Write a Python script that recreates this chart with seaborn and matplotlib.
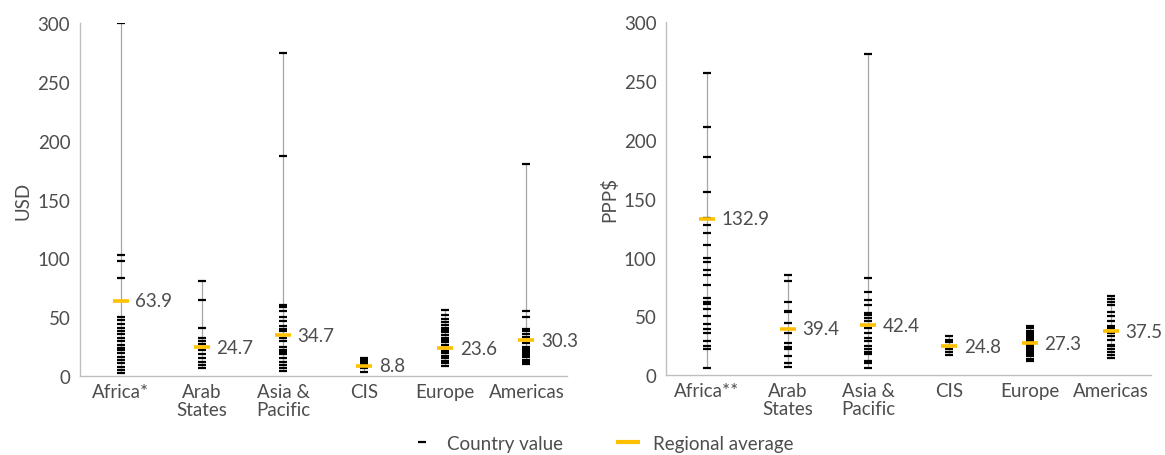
import pandas as pd
import numpy as np
import matplotlib.pyplot as plt
import seaborn as sns
from matplotlib.lines import Line2D

# ---- DATA ----
regions = ["Africa", "Arab States", "Asia & Pacific", "CIS", "Europe", "Americas"]
labels_usd = ["Africa*", "Arab\nStates", "Asia &\nPacific", "CIS", "Europe", "Americas"]
labels_ppp = ["Africa**", "Arab\nStates", "Asia &\nPacific", "CIS", "Europe", "Americas"]

usd_africa = [300, 103, 98, 83, 50.5, 47.6, 43.9, 41.1, 38.2, 35.4, 32.6, 29.7, 26.3, 24.1,
              22.1, 19.3, 16.5, 13.6, 10.8, 8, 5.1, 2.3]
usd_arab = [80.7, 64.6, 41, 32, 29.7, 27, 22, 18.4, 15.6, 12.2, 9.3, 6.5]
usd_asia = [275, 187, 60.8, 58.4, 55.2, 50.5, 46.7, 42.8, 39.7, 38.5, 32.6, 29.7, 25, 22.1,
            20.1, 18.4, 15, 12.2, 9.3, 6.5, 4.2]
usd_cis = [15.6, 13.6, 12.2, 10.8, 9.3, 8, 6.5, 3.7]
usd_europe = [56, 51.8, 48.4, 45.6, 43.3, 41.1, 39.1, 37.1, 34.8, 32.6, 30.6, 28.6, 26.3,
              23.5, 21.2, 19.3, 17.3, 15, 12.8, 10.8, 8.8]
usd_americas = [180, 55, 50, 40, 38, 36, 33, 31, 28, 25, 23, 22, 21, 20, 18, 16, 14, 12, 10]
usd_avg = [63.9, 24.7, 34.7, 8.8, 23.6, 30.3]

ppp_africa = [257, 211, 186, 156, 134, 127.6, 120.8, 110.6, 100, 96.4, 89.6, 85, 76.5, 66,
              62.4, 60.4, 56, 50, 43.4, 39, 36.3, 29.2, 25, 22, 5.7]
ppp_arab = [85, 80, 62, 55, 54, 44, 36, 27, 24, 22, 16, 10, 7]
ppp_asia = [273, 83, 71, 64, 60, 53, 51, 49, 46, 40, 36, 32, 29, 25, 22, 20, 18, 12, 10, 6]
ppp_cis = [33, 30, 28, 25, 22, 20, 17]
ppp_europe = [42, 41, 40, 38, 36, 35, 33, 32, 30, 29, 28, 27, 26, 25, 24, 23, 22, 21, 20,
              19, 18, 16, 14, 13, 12]
ppp_americas = [67, 65, 62, 60, 54, 50, 46, 42, 40, 38, 36, 33, 30, 26, 25, 22, 20, 17, 15]
ppp_avg = [132.9, 39.4, 42.4, 24.8, 27.3, 37.5]

usd_values = [usd_africa, usd_arab, usd_asia, usd_cis, usd_europe, usd_americas]
ppp_values = [ppp_africa, ppp_arab, ppp_asia, ppp_cis, ppp_europe, ppp_americas]


def long_table(values):
    rows = []
    for i, vals in enumerate(values):
        for v in vals:
            rows.append({"pos": i, "region": regions[i], "value": v})
    return pd.DataFrame(rows)


# ---- STYLE ----
sns.set_theme(style="white")
plt.rcParams["font.family"] = ["Lato", "DejaVu Sans"]
TEXT = "#4d4d4d"
AXIS = "#bfbfbf"
YELLOW = "#ffc000"
FS = 13.5

fig = plt.figure(figsize=(11.65, 4.56), dpi=100)
ax1 = fig.add_axes([0.0687, 0.173, 0.418, 0.774])
ax2 = fig.add_axes([0.572, 0.175, 0.416, 0.7735])


def draw_panel(ax, values, avgs, xlabels, ylabel):
    df = long_table(values)
    rng = df.groupby("pos")["value"].agg(["min", "max"])
    ax.vlines(rng.index, rng["min"], rng["max"], color="#a6a6a6", lw=0.9, zorder=1)
    sns.scatterplot(data=df, x="pos", y="value", marker="_", color="black", s=36,
                    linewidth=1.6, ax=ax, zorder=2, legend=False)
    avg_df = pd.DataFrame({"pos": range(len(avgs)), "avg": avgs})
    sns.scatterplot(data=avg_df, x="pos", y="avg", marker="_", color=YELLOW, s=130,
                    linewidth=2.6, ax=ax, zorder=3, legend=False)
    for i, a in enumerate(avgs):
        ax.annotate(f"{a:.1f}", (i, a), xytext=(10.5, 0), textcoords="offset points",
                    ha="left", va="center", fontsize=FS, color=TEXT)

    ax.set_xlim(-0.5, len(regions) - 0.5)
    ax.set_ylim(0, 300)
    ax.set_yticks(range(0, 301, 50))
    ax.set_xticks(range(len(regions)))
    ax.set_xticklabels(xlabels, fontsize=FS, color=TEXT, linespacing=1.05)
    ax.set_xticks(np.arange(-0.5, len(regions), 1), minor=True)
    ax.tick_params(axis="x", which="major", length=0, pad=5)
    ax.tick_params(axis="x", which="minor", length=5, color=AXIS, width=1, direction="out")
    ax.tick_params(axis="y", length=4, color=AXIS, width=1, direction="out",
                   labelsize=FS, labelcolor=TEXT, pad=3)
    ax.set_xlabel("")
    ax.set_ylabel(ylabel, fontsize=FS, color=TEXT, labelpad=4)
    for side in ["top", "right"]:
        ax.spines[side].set_visible(False)
    for side in ["left", "bottom"]:
        ax.spines[side].set_color(AXIS)
        ax.spines[side].set_linewidth(1)


draw_panel(ax1, usd_values, usd_avg, labels_usd, "USD")
draw_panel(ax2, ppp_values, ppp_avg, labels_ppp, "PPP$")

# ---- LEGEND ----
handles = [
    Line2D([], [], marker="_", color="black", linestyle="none", markersize=6, markeredgewidth=1.6),
    Line2D([], [], marker="_", color=YELLOW, linestyle="none", markersize=17, markeredgewidth=3),
]
fig.legend(handles, ["Country value", "Regional average"], loc="lower center",
           bbox_to_anchor=(0.516, -0.03), ncol=2, frameon=False, fontsize=FS,
           labelcolor=TEXT, columnspacing=2.8, handlelength=1.4, handletextpad=0.6)

plt.savefig("out.png", dpi=100)
